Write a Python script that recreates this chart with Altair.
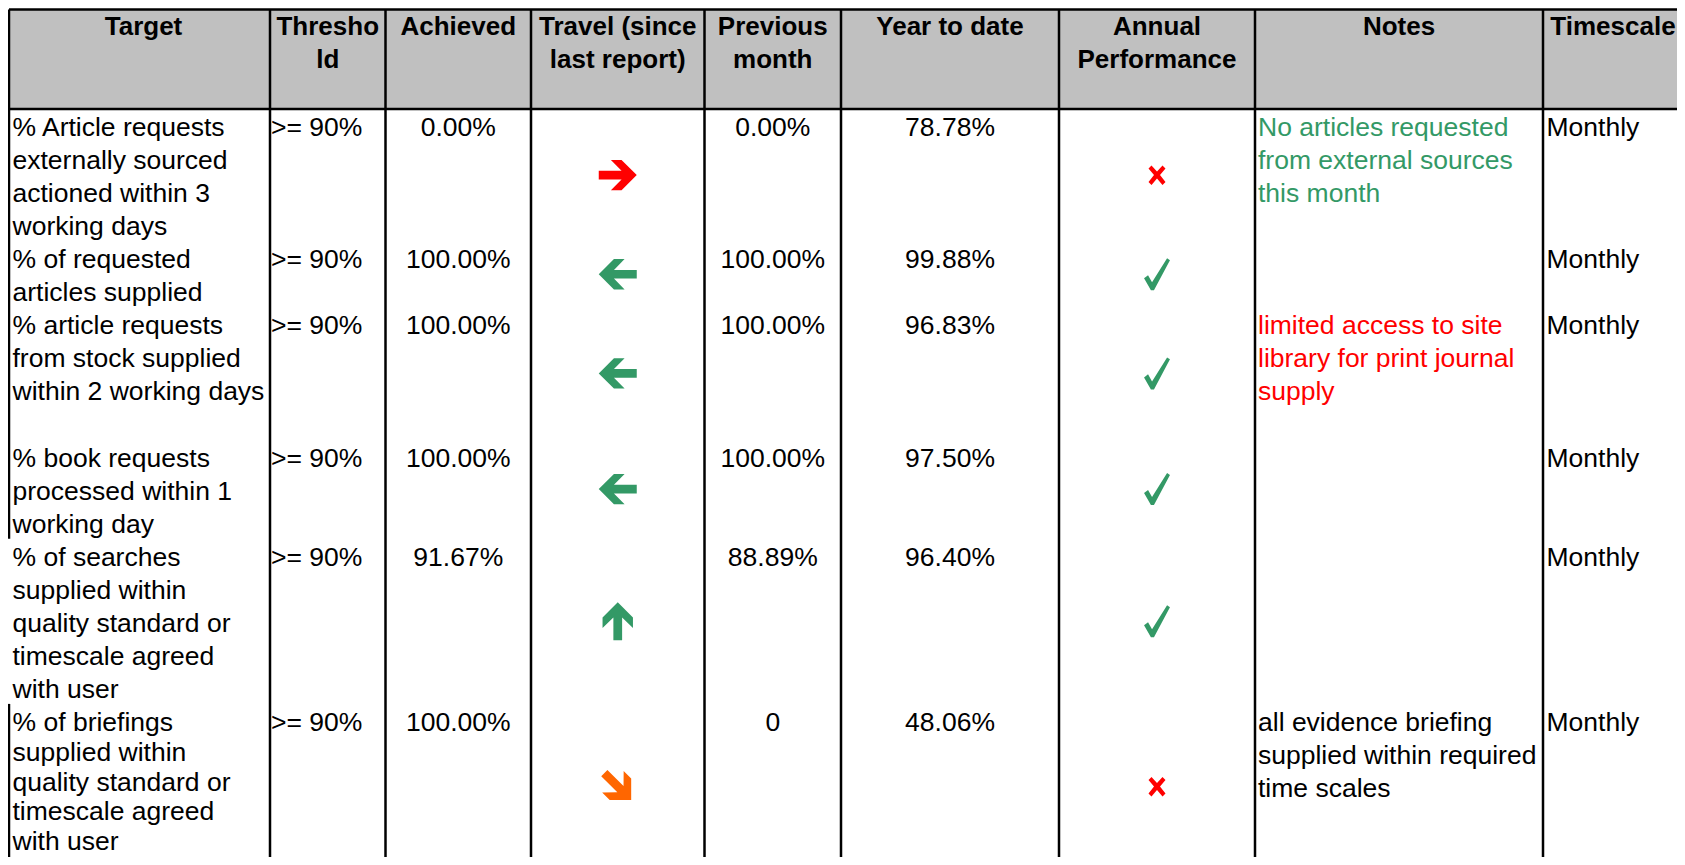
import altair as alt
import pandas as pd

# ---------------- data ----------------
headers = ["Target", "Thresho\nld", "Achieved", "Travel (since\nlast report)",
           "Previous\nmonth", "Year to date", "Annual\nPerformance", "Notes", "Timescale"]

targets = [
    "% Article requests\nexternally sourced\nactioned within 3\nworking days",
    "% of requested\narticles supplied",
    "% article requests\nfrom stock supplied\nwithin 2 working days",
    "% book requests\nprocessed within 1\nworking day",
    "% of searches\nsupplied within\nquality standard or\ntimescale agreed\nwith user",
    "% of briefings\nsupplied within\nquality standard or\ntimescale agreed\nwith user",
]
thresholds = [">= 90%", ">= 90%", ">= 90%", ">= 90%", ">= 90%", ">= 90%"]
achieved = ["0.00%", "100.00%", "100.00%", "100.00%", "91.67%", "100.00%"]
previous_month = ["0.00%", "100.00%", "100.00%", "100.00%", "88.89%", "0"]
year_to_date = ["78.78%", "99.88%", "96.83%", "97.50%", "96.40%", "48.06%"]
travel = ["right", "left", "left", "left", "up", "down-right"]
annual = ["cross", "check", "check", "check", "check", "cross"]
notes = [
    "No articles requested\nfrom external sources\nthis month",
    "",
    "limited access to site\nlibrary for print journal\nsupply",
    "",
    "",
    "all evidence briefing\nsupplied within required\ntime scales",
]
note_status = ["good", "none", "bad", "none", "none", "plain"]
timescale = ["Monthly", "Monthly", "Monthly", "Monthly", "Monthly", "Monthly"]

# ---------------- layout / style ----------------
FONT = "Liberation Sans"
FS = 26.5
HFS = 26
LINE_H = 33.05
COL_EDGES = [9, 270, 385.5, 531, 704.5, 841, 1059, 1255, 1543, 1703]
HEADER_TOP, HEADER_BOTTOM = 9.5, 109
HEADER_BASE = 35
BODY_BASE_OFFSET = 27
ROW_LINES = [4, 2, 4, 3, 5, 5]
X0, X1, Y0, Y1 = 8, 1677, 8, 857
GREEN, RED, ORANGE, GREY = "#339966", "#ff0000", "#ff6600", "#c0c0c0"
TRAVEL_COLOR = {"right": RED, "left": GREEN, "up": GREEN, "down-right": ORANGE}
TRAVEL_ANGLE = {"right": 0, "left": 180, "up": 270, "down-right": 45}
NOTE_COLOR = {"good": GREEN, "bad": RED, "plain": "#000000", "none": "#000000"}

ARROW = "M-1,-0.23L0.2,-0.23L-0.36,-0.8L0.2,-0.8L1,0L0.2,0.8L-0.36,0.8L0.2,0.23L-1,0.23Z"
CHECK = "M-0.81,0.25L-0.56,0.06L-0.31,0.5L0.63,-1L0.81,-0.88L-0.19,1L-0.38,1Z"
CROSS = ("M-0.85,-0.65L-0.55,-0.95L0,-0.35L0.55,-0.95L0.85,-0.65L0.3,0"
         "L0.85,0.7L0.55,1L0,0.35L-0.55,1L-0.85,0.7L-0.3,0Z")

centers = [(COL_EDGES[i] + COL_EDGES[i + 1]) / 2 for i in range(9)]
header_x = list(centers)
header_x[0] = centers[0] + 4
header_x[8] = X1 - 64  # keep the last header inside the page

row_top = []
acc = 0
for n in ROW_LINES:
    row_top.append(HEADER_BOTTOM + LINE_H * acc)
    acc += n
row_mid = [row_top[i] + LINE_H * ROW_LINES[i] / 2 for i in range(6)]
row_base = [t + BODY_BASE_OFFSET for t in row_top]

# ---------------- tables ----------------
bg = pd.DataFrame([{"x": COL_EDGES[0], "x2": X1, "y": HEADER_TOP, "y2": HEADER_BOTTOM}])

rules = [
    {"x": COL_EDGES[0], "x2": X1, "y": HEADER_TOP, "y2": HEADER_TOP},
    {"x": COL_EDGES[0], "x2": X1, "y": HEADER_BOTTOM, "y2": HEADER_BOTTOM},
    {"x": COL_EDGES[0], "x2": COL_EDGES[0], "y": HEADER_TOP, "y2": row_top[4]},
    {"x": COL_EDGES[0], "x2": COL_EDGES[0], "y": row_top[5], "y2": Y1},
]
for e in COL_EDGES[1:9]:
    rules.append({"x": e, "x2": e, "y": HEADER_TOP, "y2": Y1})
rules = pd.DataFrame(rules)

head_df = pd.DataFrame({"x": header_x, "y": [HEADER_BASE] * 9, "text": headers})

left_rows = []
for i in range(6):
    if i < 5:
        left_rows.append({"x": COL_EDGES[0] + 3.5, "y": row_base[i], "text": targets[i], "c": "#000000"})
    left_rows.append({"x": COL_EDGES[1] + 1, "y": row_base[i], "text": thresholds[i], "c": "#000000"})
    if notes[i]:
        left_rows.append({"x": COL_EDGES[7] + 3, "y": row_base[i], "text": notes[i],
                          "c": NOTE_COLOR[note_status[i]]})
    left_rows.append({"x": COL_EDGES[8] + 3.5, "y": row_base[i], "text": timescale[i], "c": "#000000"})
left_df = pd.DataFrame(left_rows)

# last target cell runs into the page bottom: tighten its lines so it stays visible
n_last = targets[5].count("\n")
last_lh = min(LINE_H, (Y1 - 0.25 * FS - row_base[5]) / n_last)
last_df = pd.DataFrame([{"x": COL_EDGES[0] + 3.5, "y": row_base[5], "text": targets[5]}])

center_rows = []
for i in range(6):
    center_rows.append({"x": centers[2], "y": row_base[i], "text": achieved[i]})
    center_rows.append({"x": centers[4], "y": row_base[i], "text": previous_month[i]})
    center_rows.append({"x": centers[5], "y": row_base[i], "text": year_to_date[i]})
center_df = pd.DataFrame(center_rows)

arrow_df = pd.DataFrame({
    "x": [centers[3]] * 6, "y": row_mid,
    "angle": [TRAVEL_ANGLE[t] for t in travel],
    "c": [TRAVEL_COLOR[t] for t in travel],
})
perf_df = pd.DataFrame({
    "x": [centers[6]] * 6, "y": row_mid, "kind": annual,
    "c": [GREEN if a == "check" else RED for a in annual],
    "s": [1024 if a == "check" else 400 for a in annual],
})

# ---------------- chart ----------------
xs = alt.Scale(domain=[X0, X1], nice=False, zero=False)
ys = alt.Scale(domain=[Y0, Y1], nice=False, zero=False, reverse=True)
X = lambda f="x": alt.X(f + ":Q", scale=xs, axis=None)
Y = lambda f="y": alt.Y(f + ":Q", scale=ys, axis=None)

bg_layer = alt.Chart(bg).mark_rect(color=GREY).encode(
    x=X(), x2="x2:Q", y=Y(), y2="y2:Q")
rule_layer = alt.Chart(rules).mark_rule(color="#000000", strokeWidth=2.5).encode(
    x=X(), x2="x2:Q", y=Y(), y2="y2:Q")
head_layer = alt.Chart(head_df).mark_text(
    font=FONT, fontSize=HFS, fontWeight="bold", align="center", baseline="alphabetic",
    lineBreak="\n", lineHeight=LINE_H, color="#000000").encode(
    x=X(), y=Y(), text="text:N")
left_layer = alt.Chart(left_df).mark_text(
    font=FONT, fontSize=FS, align="left", baseline="alphabetic",
    lineBreak="\n", lineHeight=LINE_H).encode(
    x=X(), y=Y(), text="text:N", color=alt.Color("c:N", scale=None))
last_layer = alt.Chart(last_df).mark_text(
    font=FONT, fontSize=FS, align="left", baseline="alphabetic",
    lineBreak="\n", lineHeight=last_lh, color="#000000").encode(
    x=X(), y=Y(), text="text:N")
center_layer = alt.Chart(center_df).mark_text(
    font=FONT, fontSize=FS, align="center", baseline="alphabetic",
    lineBreak="\n", lineHeight=LINE_H, color="#000000").encode(
    x=X(), y=Y(), text="text:N")
arrow_layer = alt.Chart(arrow_df).mark_point(
    shape=ARROW, filled=True, size=1444, opacity=1, strokeWidth=0).encode(
    x=X(), y=Y(), angle=alt.Angle("angle:Q", scale=None),
    color=alt.Color("c:N", scale=None))
perf_layer = alt.Chart(perf_df).mark_point(filled=True, opacity=1, strokeWidth=0).encode(
    x=X(), y=Y(),
    shape=alt.Shape("kind:N", scale=alt.Scale(domain=["check", "cross"], range=[CHECK, CROSS]),
                    legend=None),
    size=alt.Size("s:Q", scale=None),
    color=alt.Color("c:N", scale=None))

chart = alt.layer(bg_layer, rule_layer, head_layer, left_layer, last_layer, center_layer,
                  arrow_layer, perf_layer).properties(
    width=X1 - X0, height=Y1 - Y0, padding=0,
    autosize=alt.AutoSizeParams(type="none"),
    background="#ffffff",
).configure_view(strokeWidth=0)

chart.save("out.html", embed_options={"renderer": "svg", "actions": False})
